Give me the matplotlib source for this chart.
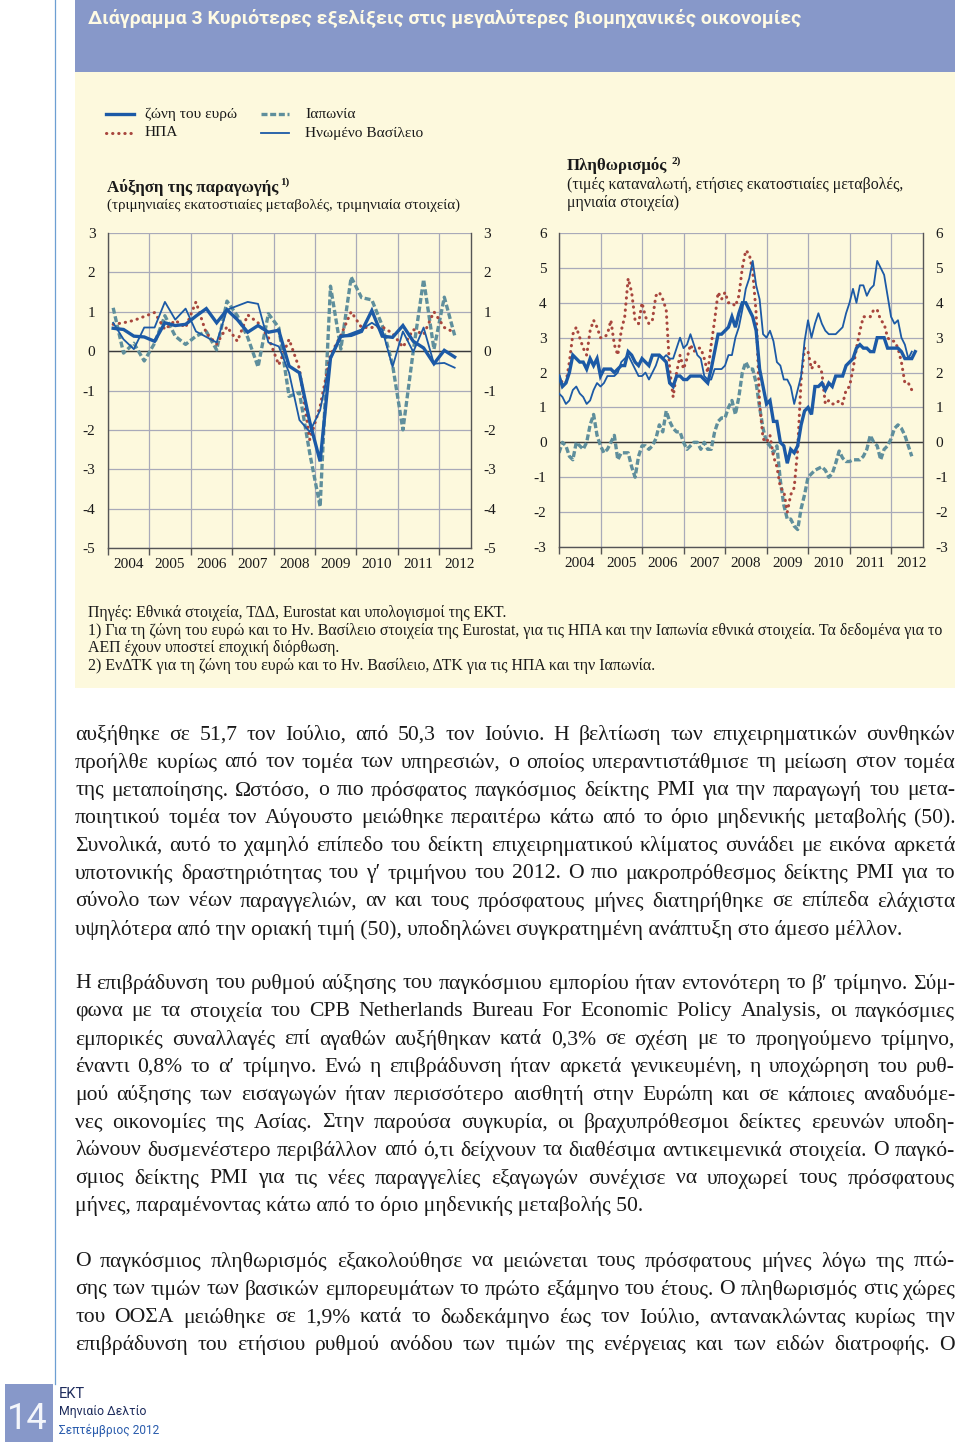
import matplotlib
matplotlib.use("Agg")
import matplotlib.pyplot as plt
import numpy as np
from matplotlib.lines import Line2D
from matplotlib.patches import Rectangle

W, H = 960, 1442

BANNER = "#8798c9"
CREAM = "#fdf9dd"
BLUE = "#1c5aa6"
TEAL = "#5f8f9c"
RED = "#a8463d"
GRID = "#a9aab9"
SPINE = "#555555"
NAVY = "#1d2b5c"

years = [str(y) for y in range(2004, 2013)]

# quarterly GDP growth, 2004Q1-2012Q2
gdp_ea = [0.58, 0.55, 0.38, 0.36, 0.25, 0.72, 0.65, 0.68,
          0.89, 1.08, 0.72, 1.05, 0.80, 0.48, 0.65, 0.48,
          0.53, -0.38, -0.55, -1.80, -2.80, -0.18, 0.38, 0.40,
          0.50, 1.03, 0.38, 0.35, 0.65, 0.25, 0.08, -0.32,
          0.02, -0.15]
gdp_uk = [0.72, 0.30, 0.05, 0.60, 0.60, 1.25, 0.80, 1.08,
          0.50, 0.36, 0.22, 1.05, 1.15, 1.25, 1.20, 0.22,
          0.12, -0.55, -1.75, -2.05, -1.50, -0.20, 0.35, 0.45,
          0.55, 0.72, 0.55, -0.40, 0.50, -0.02, 0.60, -0.32,
          -0.30, -0.42]
gdp_us = [0.68, 0.72, 0.78, 0.88, 0.98, 0.55, 0.78, 0.60,
          1.25, 0.45, 0.18, 0.62, 0.25, 0.92, 0.72, 0.35,
          -0.35, 0.30, -0.45, -2.25, -1.40, -0.10, 0.40, 1.00,
          0.60, 0.60, 0.62, 0.45, 0.10, 0.55, 0.42, 1.00,
          0.60, 0.47]
gdp_jp = [1.10, -0.05, 0.20, -0.25, 0.20, 0.90, 0.38, 0.17,
          0.38, 0.50, 0.03, 1.27, 0.90, 0.35, -0.40, 0.95,
          0.60, -1.15, -1.05, -2.60, -3.95, 1.65, 0.05, 1.88,
          1.36, 1.30, 0.65, -0.35, -2.00, 0.00, 1.82, 0.05,
          1.37, 0.40]

# monthly consumer price inflation, Jan 2004 onwards
cpi_ea = [1.9, 1.6, 1.7, 2.0, 2.5, 2.4, 2.3, 2.3, 2.1, 2.4, 2.2, 2.4,
          1.9, 2.1, 2.1, 2.1, 2.0, 2.1, 2.2, 2.2, 2.6, 2.5, 2.3, 2.2,
          2.4, 2.3, 2.2, 2.5, 2.5, 2.5, 2.4, 2.3, 1.7, 1.6, 1.9, 1.9,
          1.8, 1.8, 1.9, 1.9, 1.9, 1.9, 1.8, 1.7, 2.1, 2.6, 3.1, 3.1,
          3.2, 3.3, 3.6, 3.3, 3.7, 4.0, 4.0, 3.8, 3.6, 3.2, 2.1, 1.6,
          1.1, 1.2, 0.6, 0.6, 0.0, -0.1, -0.6, -0.2, -0.3, -0.1, 0.5, 0.9,
          1.0, 0.8, 1.6, 1.6, 1.7, 1.5, 1.7, 1.6, 1.9, 1.9, 1.9, 2.2,
          2.3, 2.4, 2.7, 2.8, 2.7, 2.7, 2.6, 2.6, 3.0, 3.0, 3.0, 2.7,
          2.7, 2.7, 2.7, 2.6, 2.4, 2.4, 2.4, 2.6]
cpi_us = [1.9, 1.7, 1.7, 2.3, 3.1, 3.3, 3.0, 2.7, 2.5, 3.2, 3.5, 3.3,
          3.0, 3.0, 3.1, 3.5, 2.8, 2.5, 3.2, 3.6, 4.7, 4.3, 3.5, 3.4,
          4.0, 3.6, 3.4, 3.5, 4.2, 4.3, 4.1, 3.8, 2.1, 1.3, 2.0, 2.5,
          2.1, 2.4, 2.8, 2.6, 2.7, 2.7, 2.4, 2.0, 2.8, 3.5, 4.3, 4.1,
          4.3, 4.0, 4.0, 3.9, 4.2, 5.0, 5.5, 5.4, 4.9, 3.7, 1.1, 0.1,
          0.0, 0.2, -0.4, -0.7, -1.3, -1.4, -2.0, -1.5, -1.3, -0.2, 1.8, 2.7,
          2.6, 2.1, 2.3, 2.2, 2.0, 1.1, 1.2, 1.1, 1.1, 1.2, 1.1, 1.5,
          1.6, 2.1, 2.7, 3.2, 3.6, 3.6, 3.6, 3.8, 3.8, 3.5, 3.4, 3.0,
          2.9, 2.9, 2.7, 2.3, 1.7, 1.7, 1.5]
cpi_jp = [-0.3, 0.0, -0.1, -0.4, -0.5, 0.0, -0.1, -0.2, 0.0, 0.5, 0.8, 0.2,
          -0.1, -0.3, -0.2, 0.0, 0.2, -0.5, -0.3, -0.3, -0.3, -0.7, -1.0, -0.4,
          -0.1, -0.1, -0.2, -0.1, 0.1, 0.5, 0.3, 0.9, 0.6, 0.4, 0.3, 0.3,
          0.0, -0.2, -0.1, 0.0, 0.0, -0.2, 0.0, -0.2, -0.2, 0.3, 0.6, 0.7,
          0.7, 1.0, 1.2, 0.8, 1.3, 2.0, 2.3, 2.1, 2.1, 1.7, 1.0, 0.4,
          0.0, -0.1, -0.3, -0.1, -1.1, -1.8, -2.2, -2.2, -2.4, -2.5, -1.9, -1.5,
          -1.0, -0.9, -0.8, -0.75, -0.7, -0.8, -1.0, -0.9, -0.6, -0.25, -0.45, -0.55,
          -0.55, -0.5, -0.5, -0.5, -0.4, -0.2, 0.2, 0.0, -0.1, -0.5, -0.2, -0.1,
          0.1, 0.4, 0.5, 0.4, 0.2, -0.1, -0.4]
cpi_uk = [1.4, 1.3, 1.1, 1.2, 1.5, 1.6, 1.4, 1.3, 1.1, 1.2, 1.5, 1.7,
          1.6, 1.7, 1.9, 1.9, 1.9, 2.0, 2.3, 2.4, 2.5, 2.3, 2.1, 1.9,
          1.9, 2.0, 1.8, 2.0, 2.2, 2.5, 2.4, 2.5, 2.4, 2.4, 2.7, 3.0,
          2.7, 2.8, 3.1, 2.8, 2.5, 2.4, 1.9, 1.8, 1.8, 2.1, 2.1, 2.1,
          2.2, 2.5, 2.5, 3.0, 3.3, 3.8, 4.4, 4.7, 5.2, 4.5, 4.1, 3.1,
          3.0, 3.2, 2.9, 2.3, 2.2, 1.8, 1.8, 1.6, 1.1, 1.5, 1.9, 2.9,
          3.5, 3.0, 3.4, 3.7, 3.4, 3.2, 3.1, 3.1, 3.1, 3.2, 3.3, 3.7,
          4.0, 4.4, 4.0, 4.5, 4.5, 4.2, 4.4, 4.5, 5.2, 5.0, 4.8, 4.2,
          3.6, 3.4, 3.5, 3.0, 2.8, 2.4, 2.6]

legend_labels = ["ζώνη του ευρώ", "ΗΠΑ", "Ιαπωνία", "Ηνωμένο Βασίλειο"]

notes = [
    "Πηγές: Εθνικά στοιχεία, ΤΔΔ, Eurostat και υπολογισμοί της ΕΚΤ.",
    "1) Για τη ζώνη του ευρώ και το Ην. Βασίλειο στοιχεία της Eurostat, για τις ΗΠΑ και την Ιαπωνία εθνικά στοιχεία. Τα δεδομένα για το",
    "ΑΕΠ έχουν υποστεί εποχική διόρθωση.",
    "2) ΕνΔΤΚ για τη ζώνη του ευρώ και το Ην. Βασίλειο, ΔΤΚ για τις ΗΠΑ και την Ιαπωνία.",
]

paragraphs = [
    ["αυξήθηκε σε 51,7 τον Ιούλιο, από 50,3 τον Ιούνιο. Η βελτίωση των επιχειρηματικών συνθηκών",
     "προήλθε κυρίως από τον τομέα των υπηρεσιών, ο οποίος υπεραντιστάθμισε τη μείωση στον τομέα",
     "της μεταποίησης. Ωστόσο, ο πιο πρόσφατος παγκόσμιος δείκτης PMI για την παραγωγή του μετα-",
     "ποιητικού τομέα τον Αύγουστο μειώθηκε περαιτέρω κάτω από το όριο μηδενικής μεταβολής (50).",
     "Συνολικά, αυτό το χαμηλό επίπεδο του δείκτη επιχειρηματικού κλίματος συνάδει με εικόνα αρκετά",
     "υποτονικής δραστηριότητας του γ′ τριμήνου του 2012. Ο πιο μακροπρόθεσμος δείκτης PMI για το",
     "σύνολο των νέων παραγγελιών, αν και τους πρόσφατους μήνες διατηρήθηκε σε επίπεδα ελάχιστα",
     "υψηλότερα από την οριακή τιμή (50), υποδηλώνει συγκρατημένη ανάπτυξη στο άμεσο μέλλον."],
    ["Η επιβράδυνση του ρυθμού αύξησης του παγκόσμιου εμπορίου ήταν εντονότερη το β′ τρίμηνο. Σύμ-",
     "φωνα με τα στοιχεία του CPB Netherlands Bureau For Economic Policy Analysis, οι παγκόσμιες",
     "εμπορικές συναλλαγές επί αγαθών αυξήθηκαν κατά 0,3% σε σχέση με το προηγούμενο τρίμηνο,",
     "έναντι 0,8% το α′ τρίμηνο. Ενώ η επιβράδυνση ήταν αρκετά γενικευμένη, η υποχώρηση του ρυθ-",
     "μού αύξησης των εισαγωγών ήταν περισσότερο αισθητή στην Ευρώπη και σε κάποιες αναδυόμε-",
     "νες οικονομίες της Ασίας. Στην παρούσα συγκυρία, οι βραχυπρόθεσμοι δείκτες ερευνών υποδη-",
     "λώνουν δυσμενέστερο περιβάλλον από ό,τι δείχνουν τα διαθέσιμα αντικειμενικά στοιχεία. Ο παγκό-",
     "σμιος δείκτης PMI για τις νέες παραγγελίες εξαγωγών συνέχισε να υποχωρεί τους πρόσφατους",
     "μήνες, παραμένοντας κάτω από το όριο μηδενικής μεταβολής 50."],
    ["Ο παγκόσμιος πληθωρισμός εξακολούθησε να μειώνεται τους πρόσφατους μήνες λόγω της πτώ-",
     "σης των τιμών των βασικών εμπορευμάτων το πρώτο εξάμηνο του έτους. Ο πληθωρισμός στις χώρες",
     "του ΟΟΣΑ μειώθηκε σε 1,9% κατά το δωδεκάμηνο έως τον Ιούλιο, αντανακλώντας κυρίως την",
     "επιβράδυνση του ετήσιου ρυθμού ανόδου των τιμών της ενέργειας και των ειδών διατροφής. Ο"],
]
para_last_ends = [True, True, False]

plt.rcParams.update({
    "font.family": ["Liberation Serif", "DejaVu Serif"],
    "text.color": "#1a1a1a",
    "xtick.color": "#1a1a1a",
    "ytick.color": "#1a1a1a",
    "axes.unicode_minus": False,
})
SANS = dict(family=["Roboto", "DejaVu Sans"])

fig = plt.figure(figsize=(W / 100, H / 100), dpi=100)
fig.patch.set_facecolor("white")
renderer = fig.canvas.get_renderer()


def fx(x):
    return x / W


def fy(y):
    return 1 - y / H


def box(x0, y0, x1, y1, color):
    fig.add_artist(Rectangle((fx(x0), fy(y1)), (x1 - x0) / W, (y1 - y0) / H,
                             transform=fig.transFigure, color=color, lw=0, zorder=-5))


def measure(s, size, **kw):
    t = fig.text(0, 0, s, fontsize=size, **kw)
    w = t.get_window_extent(renderer).width
    t.remove()
    return w


def put(x, y, s, size, width=None, **kw):
    if width is not None:
        size = size * width / measure(s, size, **kw)
    kw.setdefault("va", "center")
    return fig.text(fx(x), fy(y), s, fontsize=size, **kw)


def justify(line, y, size, x0=75, x1=955):
    words = line.split()
    widths = [measure(w, size) for w in words]
    gap = (x1 - x0 - sum(widths)) / (len(words) - 1)
    x = x0
    for w, wd in zip(words, widths):
        fig.text(fx(x), fy(y), w, fontsize=size, va="center")
        x += wd + gap


# page frame
fig.add_artist(Line2D([fx(55), fx(55)], [fy(0), fy(1384)], transform=fig.transFigure,
                      color="#6d9fd2", lw=0.9))
box(75, 0, 955, 72, BANNER)
box(75, 72, 955, 688, CREAM)

put(88, 18, "Διάγραμμα 3 Κυριότερες εξελίξεις στις μεγαλύτερες βιομηχανικές οικονομίες",
    14, width=712, weight="bold", color="#fffbe4", **SANS)

# legend
leg_size = 10.5 * 118 / measure(legend_labels[3], 10.5)
styles = [
    dict(color=BLUE, lw=2.4),
    dict(color=RED, lw=2.2, linestyle=(0, (0.1, 1.9)), dash_capstyle="round"),
    dict(color=TEAL, lw=2.4, linestyle=(0, (1.8, 0.8))),
    dict(color=BLUE, lw=1.3),
]
leg_pos = [(106, 114), (106, 133), (261, 114), (261, 133)]
for (lx, ly), lab, st in zip(leg_pos, legend_labels, styles):
    fig.add_artist(Line2D([fx(lx), fx(lx + 28)], [fy(ly), fy(ly)],
                          transform=fig.transFigure, **st))
    put(lx + 39 if lx < 200 else lx + 44, ly, lab, leg_size)

# panel headings
put(107, 188, "Αύξηση της παραγωγής", 12, width=171, weight="bold")
put(280, 182, "1)", 8, weight="bold")
put(107, 205, "(τριμηνιαίες εκατοστιαίες μεταβολές, τριμηνιαία στοιχεία)", 10.5, width=352)
put(567, 166, "Πληθωρισμός", 12, width=100, weight="bold")
put(671, 161, "2)", 8, weight="bold")
sub_size = 10.5 * 335 / measure("(τιμές καταναλωτή, ετήσιες εκατοστιαίες μεταβολές,", 10.5)
put(567, 185, "(τιμές καταναλωτή, ετήσιες εκατοστιαίες μεταβολές,", sub_size)
put(567, 203, "μηνιαία στοιχεία)", sub_size)


def setup(ax, ymin, ymax):
    ax.set_facecolor(CREAM)
    ax.set_xlim(2004, 2012.77)
    ax.set_ylim(ymin, ymax)
    ax.set_yticks(range(ymin, ymax + 1))
    ax.tick_params(axis="y", length=0, labelsize=11, pad=9, labelright=True)
    ax.set_xticks(np.arange(2004, 2013))
    ax.set_xticklabels([])
    ax.set_xticks(np.arange(2004, 2013) + 0.5, minor=True)
    ax.set_xticklabels(years, minor=True)
    ax.tick_params(axis="x", which="major", length=5, width=1, color=SPINE)
    ax.tick_params(axis="x", which="minor", length=0, labelsize=11, pad=7)
    ax.grid(True, which="major", color=GRID, lw=0.9)
    ax.set_axisbelow(True)
    ax.spines["top"].set_visible(False)
    for s in ("left", "right", "bottom"):
        ax.spines[s].set_color(SPINE)
        ax.spines[s].set_linewidth(1)
    ax.axhline(0, color="#3a3a3a", lw=1, zorder=1)


def draw(ax, x, ea, us, jp, uk):
    ax.plot(x[:len(jp)], jp, zorder=2, **styles[2])
    ax.plot(x[:len(us)], us, zorder=3, **styles[1])
    ax.plot(x[:len(uk)], uk, zorder=4, **styles[3])
    ax.plot(x[:len(ea)], ea, zorder=5, solid_joinstyle="miter", **styles[0])


ax_l = fig.add_axes([fx(108), fy(548), (471 - 108) / W, (548 - 233) / H])
setup(ax_l, -5, 3)
xq = 2004 + (np.arange(len(gdp_ea)) + 0.5) / 4
draw(ax_l, xq, gdp_ea, gdp_us, gdp_jp, gdp_uk)

ax_r = fig.add_axes([fx(559), fy(547), (923 - 559) / W, (547 - 233) / H])
setup(ax_r, -3, 6)
xm = 2004 + np.arange(len(cpi_ea)) / 12
draw(ax_r, xm, cpi_ea, cpi_us, cpi_jp, cpi_uk)

# notes
note_size = 10 * 855 / measure(notes[1], 10)
for i, line in enumerate(notes):
    put(88, 613 + i * 17.7, line, note_size)

# body text
full = [ln for p in paragraphs for ln in p]
body_size = 13 * 872 / max(measure(ln, 13) for ln in full)
starts = [735, 984, 1262]
for p, y0, ends in zip(paragraphs, starts, para_last_ends):
    for i, line in enumerate(p):
        y = y0 + i * 27.8
        if i == len(p) - 1 and ends:
            put(75, y, line, body_size)
        else:
            justify(line, y, body_size)

# footer
box(5, 1384, 53, 1442, BANNER)
put(7, 1419, "14", 26, color="#f4f6fb", **SANS)
put(59, 1394, "ΕΚΤ", 10.5, color=NAVY, **SANS)
put(59, 1412, "Μηνιαίο Δελτίο", 10.5, width=88, color=NAVY, **SANS)
put(59, 1430, "Σεπτέμβριος 2012", 10.5, width=100, color="#2a5cad", **SANS)

fig.savefig("out.png", dpi=100, facecolor="white")
